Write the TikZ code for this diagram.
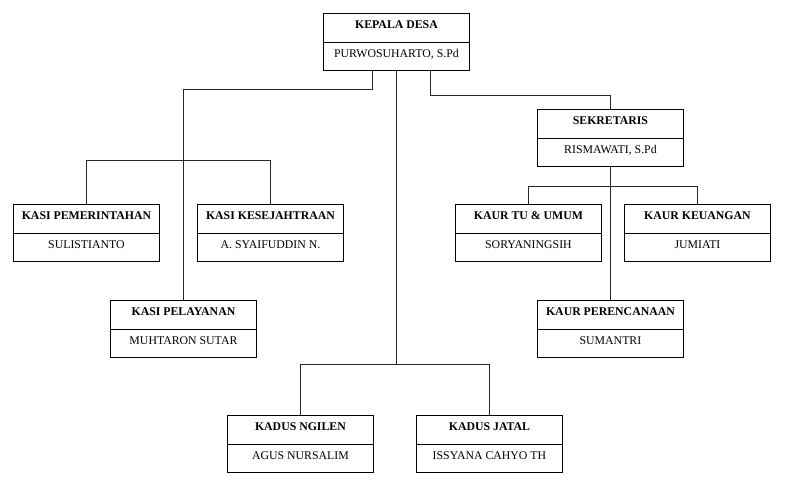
\documentclass[tikz,border=0pt]{standalone}
\usepackage{fontspec}
\setmainfont{Liberation Serif}
\tikzset{
 orgbox/.style={draw=black, line width=0.9pt, minimum width=146pt, minimum height=57pt, inner sep=0pt, anchor=north west},
 ttl/.style={font=\fontsize{11.8}{12}\selectfont\bfseries, anchor=base, inner sep=0pt},
 nm/.style={font=\fontsize{11.8}{12}\selectfont, anchor=base, inner sep=0pt},
 conn/.style={draw=black!85, line width=0.9pt},
}
\newcommand\orgunit[5]{%
 \node[orgbox] (#1) at (#2pt,-#3pt) {};
 \draw[line width=0.9pt] ([yshift=-29pt]#1.north west) -- ([yshift=-29pt]#1.north east);
 \node[ttl] (#1-t) at ([yshift=-15.5pt]#1.north) {#4};
 \node[nm] (#1-p) at ([yshift=-44.5pt]#1.north) {#5};
}
\begin{document}
\begin{tikzpicture}[x=1pt,y=1pt]
\useasboundingbox (0,0) rectangle (786,-483);
\orgunit{kep}{323}{13}{KEPALA DESA}{PURWOSUHARTO, S.Pd}
\orgunit{sek}{537}{109}{SEKRETARIS}{RISMAWATI, S.Pd}
\orgunit{pem}{13}{204}{KASI PEMERINTAHAN}{SULISTIANTO}
\orgunit{kes}{197}{204}{KASI KESEJAHTRAAN}{A. SYAIFUDDIN N.}
\orgunit{tu}{455}{204}{KAUR TU \& UMUM}{SORYANINGSIH}
\orgunit{keu}{624}{204}{KAUR KEUANGAN}{JUMIATI}
\orgunit{pel}{110}{300}{KASI PELAYANAN}{MUHTARON SUTAR}
\orgunit{per}{537}{300}{KAUR PERENCANAAN}{SUMANTRI}
\orgunit{ngi}{227}{415}{KADUS NGILEN}{AGUS NURSALIM}
\orgunit{jat}{416}{415}{KADUS JATAL}{ISSYANA CAHYO TH}

\draw[conn] ([xshift=-24pt]kep.south) -- ++(0,-19) -| (pel.north);
\draw[conn] (pem.north) -- ++(0,44) -| (kes.north);
\draw[conn] ([xshift=34pt]kep.south) -- ++(0,-24.5) -| (sek.north);
\draw[conn] (sek.south) -- (per.north);
\draw[conn] (tu.north) -- ++(0,18) -| (keu.north);
\draw[conn] (ngi.north) -- ++(0,50.3) coordinate (nb) -| (jat.north);
\draw[conn] (kep.south) -- (kep.south |- nb);
\end{tikzpicture}
\end{document}
